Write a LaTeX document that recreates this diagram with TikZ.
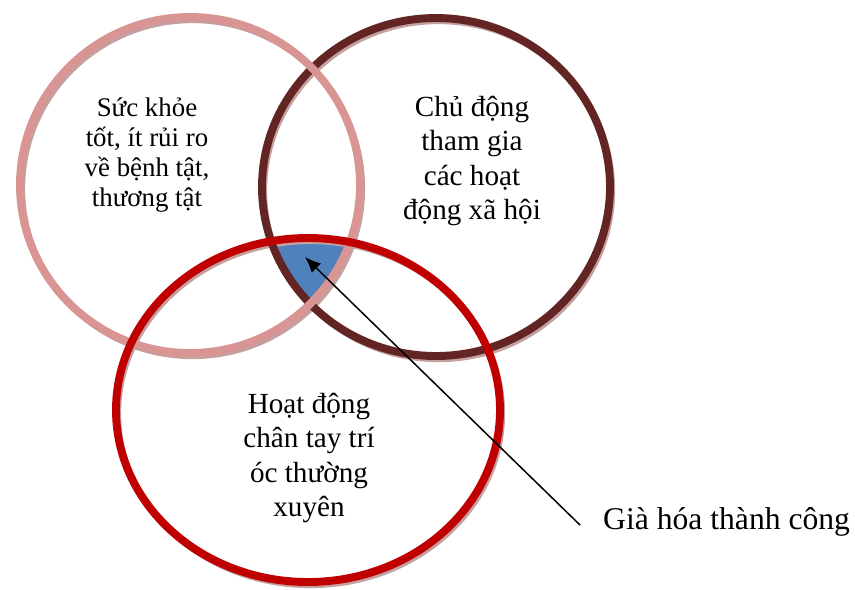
\documentclass[tikz,border=0pt]{standalone}
\usepackage{fontspec}
\setmainfont{Liberation Serif}
\usepackage{tikz}
\usetikzlibrary{positioning}
\usetikzlibrary{arrows.meta}
\definecolor{rosering}{HTML}{D99594}
\definecolor{brownring}{HTML}{632523}
\definecolor{redring}{HTML}{C00000}
\definecolor{ringshade}{RGB}{196,160,160}
\definecolor{coreblue}{HTML}{4F81BD}
\tikzset {
  % thick coloured outline of each set
  ring/.style = {line width=4.5pt},
  % hatched shadow under each outline
  shade/.style = {ringshade, line width=3pt, shift={(2.5,3.5)}},
  % text inside a set
  label/.style = {align=center, font=\fontsize{16.6}{19.6}\selectfont},
}

\begin{document}
\begin{tikzpicture}[x=0.02cm, y=-0.02cm]
        \useasboundingbox (0,0) rectangle (855,589);

        % overlap of all three sets
        \begin{scope}
          \clip (190,185) ellipse (170 and 168);
          \clip (436,187) ellipse (174 and 169);
          \fill[coreblue] (308,410) ellipse (192 and 172);
        \end{scope}

        % shadows
        \draw[shade] (436,187) ellipse (174 and 169);
        \draw[shade] (190,185) ellipse (170 and 168);
        \draw[shade] (308,410) ellipse (192 and 172);

        % the three sets
        \draw[ring, brownring] (436,187) ellipse (174 and 169);
        \draw[ring, rosering] (190,185) ellipse (170 and 168);
        \draw[ring, redring] (308,410) ellipse (192 and 172);

        \node[label, font=\fontsize{15.3}{17}\selectfont] (health) at (147,155)
          {Sức khỏe\\tốt, ít rủi ro\\về bệnh tật,\\thương tật};
        \node[label] (social) at (472,161)
          {Chủ động\\tham gia\\các hoạt\\động xã hội};
        \node[label] (active) at (309,458)
          {Hoạt động\\chân tay trí\\óc thường\\xuyên};

        \node[font=\fontsize{18}{21}\selectfont, anchor=west] (success) at (597,522)
          {Già hóa thành công};
        \coordinate (start) at (580,525);
        \coordinate (core) at (305,257);

        \draw[-{Latex[length=9pt,width=7.5pt]}, line width=0.85pt] (start) -- (core);

\end{tikzpicture}
\end{document}
